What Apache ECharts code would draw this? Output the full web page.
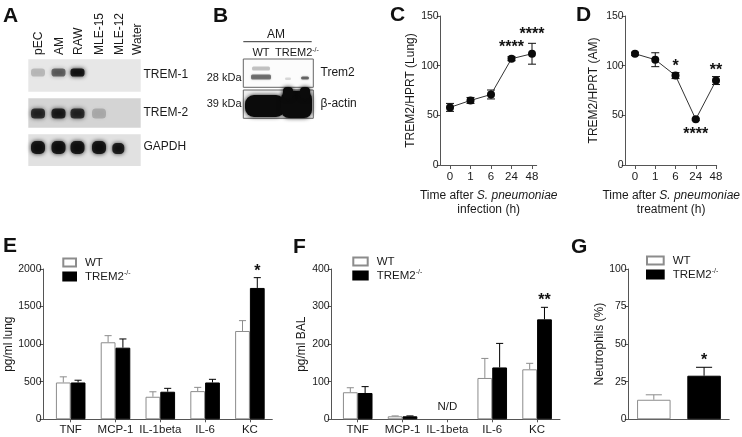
<!DOCTYPE html>
<html><head><meta charset="utf-8">
<script src="https://cdn.jsdelivr.net/npm/echarts@6/dist/echarts.min.js"></script>
<style>html,body{margin:0;padding:0;background:#fff}#c{width:742px;height:437px}</style>
</head><body><div id="c"></div>
<script>
const FONT = 'Liberation Sans, Arial, Helvetica, sans-serif';

// ---------- Panel A (RT-PCR gel) ----------
const laneLabels = ['pEC', 'AM', 'RAW', 'MLE-15', 'MLE-12', 'Water'];
const geneLabels = ['TREM-1', 'TREM-2', 'GAPDH'];
const trem1Intensity = [0.22, 0.6, 1, 0, 0, 0];
const trem2Intensity = [0.85, 0.92, 0.85, 0.22, 0, 0];
const gapdhIntensity = [1, 1, 1, 1, 0.95, 0];
// ---------- Panel B (western blot) ----------
const blotGroup = 'AM';
const blotLanes = ['WT', 'TREM2'];
const blotLabels = ['Trem2', 'β-actin'];
const blotMarkers = ['28 kDa', '39 kDa'];
// ---------- Panel C ----------
const timeCats = ['0', '1', '6', '24', '48'];
const lungMean = [58, 65, 71, 107, 112];
const lungErr = [4, 3, 4.5, 2, 10.5];
const lungStars = ['', '', '', '****', '****'];
// ---------- Panel D ----------
const amMean = [112, 106, 90, 46, 85];
const amErr = [1.5, 7, 3, 1, 4];
const amStars = ['', '', '*', '****', '**'];
const amStarSide = ['', '', 'up', 'down', 'up'];
// ---------- Panel E ----------
const cytoCats = ['TNF', 'MCP-1', 'IL-1beta', 'IL-6', 'KC'];
const lungWT = [490, 1025, 300, 375, 1175];
const lungWTErr = [75, 88, 66, 50, 138];
const lungKO = [490, 953, 367, 490, 1748];
const lungKOErr = [30, 116, 45, 42, 137];
const lungKOStars = ['', '', '', '', '*'];
// ---------- Panel F ----------
const balWT = [72, 8, null, 110, 133];
const balWTErr = [12, 1, null, 52, 16];
const balKO = [70, 8, null, 138, 266];
const balKOErr = [17, 1, null, 64, 32];
const balKOStars = ['', '', '', '', '**'];
const balNotDetected = ['', '', 'N/D', '', ''];
// ---------- Panel G ----------
const neutCats = ['WT', 'TREM2'];
const neutMean = [13, 29];
const neutErr = [3.3, 5.6];
const neutStars = ['', '*'];

const AX = '#555';
const TXT = '#1a1a1a';
const WT_BORDER = '#8c8c8c';

const chart = echarts.init(document.getElementById('c'), null, {renderer: 'canvas'});

// ---------- graphics for gels and panel letters ----------
const graphics = [];
function letter(t, x, y) {
  graphics.push({type: 'text', x, y, style: {text: t, font: 'bold 21px ' + FONT, fill: '#111', align: 'left', verticalAlign: 'top'}});
}
letter('A', 3, 6); letter('B', 213, 6); letter('C', 390, 5); letter('D', 576, 5);
letter('E', 3, 236); letter('F', 293, 237); letter('G', 571, 237);

const laneX = [38, 58.5, 77.5, 99, 118.3, 137];
laneLabels.forEach((l, i) => graphics.push({
  type: 'text', x: laneX[i] + 1, y: 55, rotation: Math.PI / 2,
  style: {text: l, font: '12px ' + FONT, fill: TXT, align: 'left', verticalAlign: 'middle'}
}));
const gelRows = [
  {top: 59.3, h: 32.4, band: 72.5, bh: 8, bg: '#e7e7e7', ints: trem1Intensity, labelY: 75},
  {top: 98.3, h: 29.4, band: 113.5, bh: 10, bg: '#d4d4d4', ints: trem2Intensity, labelY: 113},
  {top: 134.3, h: 31.7, band: 147.5, bh: 13, bg: '#e1e1e1', ints: gapdhIntensity, labelY: 147}
];
gelRows.forEach((r, k) => {
  graphics.push({type: 'rect', shape: {x: 28.3, y: r.top, width: 112.4, height: r.h}, style: {fill: r.bg}});
  r.ints.forEach((a, i) => {
    if (!a) return;
    const w = (k === 2 && i === 4) ? 12 : 14;
    const h = (k === 2 && i === 4) ? r.bh - 2 : r.bh;
    const cy = (k === 2 && i === 4) ? r.band + 1 : r.band;
    graphics.push({type: 'rect', shape: {x: laneX[i] - w / 2, y: cy - h / 2, width: w, height: h, r: h / 2.6},
      style: {fill: 'rgba(8,8,8,' + (a * 0.85) + ')', shadowBlur: 4, shadowColor: 'rgba(8,8,8,' + a + ')'}});
  });
  graphics.push({type: 'text', x: 143.5, y: r.labelY, style: {text: geneLabels[k], font: '12px ' + FONT, fill: TXT, align: 'left', verticalAlign: 'middle'}});
});

// Panel B
graphics.push({type: 'text', x: 276, y: 35, style: {text: blotGroup, font: '12px ' + FONT, fill: TXT, align: 'center', verticalAlign: 'middle'}});
graphics.push({type: 'line', shape: {x1: 243.3, y1: 41.7, x2: 311.7, y2: 41.7}, style: {stroke: '#333', lineWidth: 1}});
graphics.push({type: 'text', x: 261, y: 52.5, style: {text: blotLanes[0], font: '11px ' + FONT, fill: TXT, align: 'center', verticalAlign: 'middle'}});
graphics.push({type: 'text', x: 275, y: 52.5, style: {text: blotLanes[1] + '{s|-/-}', font: '11px ' + FONT, fill: TXT, align: 'left', verticalAlign: 'middle',
  rich: {s: {fontSize: 7, fontFamily: FONT, verticalAlign: 'top', fill: TXT}}}});
graphics.push({type: 'rect', shape: {x: 243.3, y: 59, width: 70, height: 28.3}, style: {fill: '#fcfcfc', stroke: '#666', lineWidth: 1}});
graphics.push({type: 'rect', shape: {x: 243.3, y: 90, width: 70, height: 28.3}, style: {fill: '#f0f0f0', stroke: '#666', lineWidth: 1}});
[
  [252, 66.5, 18, 4, 0.22], [251, 74.5, 20, 5, 0.5], [285, 77.5, 6, 2.5, 0.15], [301, 76.5, 8, 3, 0.55]
].forEach(b => graphics.push({type: 'rect', shape: {x: b[0], y: b[1], width: b[2], height: b[3], r: 1.5},
  style: {fill: 'rgba(20,20,20,' + b[4] + ')', shadowBlur: 2, shadowColor: 'rgba(20,20,20,' + b[4] + ')'}}));
[
  [245, 95, 40, 22, 9], [281, 91, 31, 27, 8], [283, 87, 10, 12, 4], [300, 87, 10, 12, 4]
].forEach(b => graphics.push({type: 'rect', shape: {x: b[0], y: b[1], width: b[2], height: b[3], r: b[4]},
  style: {fill: '#0b0b0b', shadowBlur: 4, shadowColor: 'rgba(10,10,10,0.9)'}}));
blotMarkers.forEach((m, i) => graphics.push({type: 'text', x: 241.5, y: i ? 103.5 : 77.5,
  style: {text: m, font: '11px ' + FONT, fill: TXT, align: 'right', verticalAlign: 'middle'}}));
blotLabels.forEach((m, i) => graphics.push({type: 'text', x: 320.5, y: i ? 104 : 73,
  style: {text: m, font: '12px ' + FONT, fill: TXT, align: 'left', verticalAlign: 'middle'}}));

// ---------- axis helpers ----------
const lineStyle = {color: AX, width: 1};
function frameX(g, name, gap) {
  const o = {gridIndex: g, type: 'value', min: 0, max: 1, axisLine: {show: true, onZero: false, lineStyle},
    axisTick: {show: false}, axisLabel: {show: false}, splitLine: {show: false}};
  if (name) {
    Object.assign(o, {name, nameLocation: 'middle', nameGap: gap,
      nameTextStyle: {color: TXT, fontFamily: FONT, fontSize: 12, lineHeight: 14,
        rich: {n: {fontSize: 12, fontFamily: FONT, color: TXT, lineHeight: 14}, i: {fontSize: 12, fontFamily: FONT, fontStyle: 'italic', color: TXT, lineHeight: 14}}}});
  }
  return o;
}
function frameY(g, min, max, interval, name, gap) {
  return {gridIndex: g, type: 'value', min, max, interval,
    axisLine: {show: true, onZero: false, lineStyle}, axisTick: {show: true, length: 4, lineStyle},
    axisLabel: {color: TXT, fontFamily: FONT, fontSize: 10.5, margin: 2, formatter: v => String(v)},
    splitLine: {show: false},
    name, nameLocation: 'middle', nameGap: gap,
    nameTextStyle: {color: TXT, fontFamily: FONT, fontSize: 12}};
}
function hiddenY(g, min, max) { return {gridIndex: g, type: 'value', min, max, show: false}; }
function catX(g, data, boundaryGap, tickLen, margin) {
  return {gridIndex: g, type: 'category', data, boundaryGap,
    axisLine: {show: false}, axisTick: {show: true, length: tickLen, alignWithLabel: true, lineStyle},
    axisLabel: {color: TXT, fontFamily: FONT, fontSize: 11.5, margin, interval: 0}, splitLine: {show: false}};
}

const grids = [
  {left: 440.7, top: 16, width: 96, height: 149},
  {left: 450, top: 16, width: 82, height: 149},
  {left: 625.7, top: 16, width: 94.3, height: 149},
  {left: 635, top: 16, width: 81, height: 149},
  {left: 43.5, top: 269, width: 228.8, height: 150.3},
  {left: 48.3, top: 269, width: 224, height: 150.3},
  {left: 331.7, top: 269, width: 228.3, height: 150.3},
  {left: 335.3, top: 269, width: 224.2, height: 150.3},
  {left: 628.7, top: 269, width: 100.5, height: 150.3}
];

const xAxes = [
  frameX(0, '{n|Time after }{i|S. pneumoniae}\n{n|infection (h)}', 24),
  catX(1, timeCats, false, 4, 6),
  frameX(2, '{n|Time after }{i|S. pneumoniae}\n{n|treatment (h)}', 24),
  catX(3, timeCats, false, 4, 6),
  frameX(4), catX(5, cytoCats, true, 3, 5),
  frameX(6), catX(7, cytoCats, true, 3, 5),
  {gridIndex: 8, type: 'category', data: neutCats, axisLine: {show: true, lineStyle}, axisTick: {show: false}, axisLabel: {show: false}}
];
const yAxes = [
  frameY(0, 0, 150, 50, 'TREM2/HPRT (Lung)', 24), hiddenY(1, 0, 150),
  frameY(2, 0, 150, 50, 'TREM2/HPRT (AM)', 26), hiddenY(3, 0, 150),
  frameY(4, 0, 2000, 500, 'pg/ml lung', 25), hiddenY(5, 0, 2000),
  frameY(6, 0, 400, 100, 'pg/ml BAL', 24), hiddenY(7, 0, 400),
  frameY(8, 0, 100, 25, 'Neutrophils (%)', 22)
];

// ---------- series helpers ----------
const STAR_FONT = 'bold 16px ' + FONT;
function lineErr(ax, means, errs, stars, sides, upGap) {
  return {type: 'custom', xAxisIndex: ax, yAxisIndex: ax, z: 2, silent: true,
    data: means.map((m, i) => [i, m, errs[i]]),
    renderItem: (params, api) => {
      const i = api.value(0), m = api.value(1), e = api.value(2);
      const x = api.coord([i, m])[0];
      const yT = api.coord([i, m + e])[1], yB = api.coord([i, m - e])[1];
      const st = {stroke: '#111', lineWidth: 1};
      const c = [
        {type: 'line', shape: {x1: x, y1: yT, x2: x, y2: yB}, style: st},
        {type: 'line', shape: {x1: x - 4, y1: yT, x2: x + 4, y2: yT}, style: st},
        {type: 'line', shape: {x1: x - 4, y1: yB, x2: x + 4, y2: yB}, style: st}];
      const s = stars[params.dataIndex];
      if (s) {
        const down = sides && sides[params.dataIndex] === 'down';
        c.push({type: 'text', style: {text: s, x, y: down ? yB + 6 : yT - upGap, font: STAR_FONT, fill: '#111',
          align: 'center', verticalAlign: down ? 'top' : 'bottom'}});
      }
      return {type: 'group', children: c};
    }};
}
function meanLine(ax, name, means) {
  return {type: 'line', name, xAxisIndex: ax, yAxisIndex: ax, data: means, z: 3,
    symbol: 'circle', symbolSize: 8, itemStyle: {color: '#0a0a0a'},
    lineStyle: {color: '#333', width: 1}, silent: true};
}
function bar(ax, name, data, fill, border, extra) {
  return Object.assign({type: 'bar', name, xAxisIndex: ax, yAxisIndex: ax, data, barGap: '0%', barCategoryGap: '34%',
    itemStyle: {color: fill, borderColor: border, borderWidth: 1}, silent: true, z: 2}, extra || {});
}
function barErr(ax, means, errs, stars, sign, frac, color, starGap) {
  return {type: 'custom', xAxisIndex: ax, yAxisIndex: ax, z: 1, silent: true,
    data: means.map((m, i) => m == null ? [i, 0, 0, 0] : [i, m, errs[i], 1]),
    renderItem: (params, api) => {
      if (!api.value(3)) return null;
      const i = api.value(0), m = api.value(1), e = api.value(2);
      const band = api.size([1, 0])[0];
      const bw = band * frac;
      const x = api.coord([i, 0])[0] + sign * bw / 2;
      const y0 = api.coord([i, m])[1], y1 = api.coord([i, m + e])[1];
      const cap = bw * 0.24;
      const st = {stroke: color, lineWidth: 1};
      const c = [
        {type: 'line', shape: {x1: x, y1: y0, x2: x, y2: y1}, style: st},
        {type: 'line', shape: {x1: x - cap, y1: y1, x2: x + cap, y2: y1}, style: st}];
      const s = stars[params.dataIndex];
      if (s) c.push({type: 'text', style: {text: s, x, y: y1 - starGap, font: STAR_FONT, fill: '#111', align: 'center', verticalAlign: 'bottom'}});
      return {type: 'group', children: c};
    }};
}

const series = [
  lineErr(1, lungMean, lungErr, lungStars, null, 1),
  meanLine(1, 'Lung', lungMean),
  lineErr(3, amMean, amErr, amStars, amStarSide, -2),
  meanLine(3, 'AM', amMean),
  bar(5, 'WT', lungWT, '#fff', WT_BORDER),
  bar(5, 'TREM2', lungKO, '#000', '#000'),
  barErr(5, lungWT, lungWTErr, lungWT.map(() => ''), -1, 0.33, WT_BORDER, 0),
  barErr(5, lungKO, lungKOErr, lungKOStars, 1, 0.33, '#000', -1.5),
  bar(7, 'WT', balWT, '#fff', WT_BORDER),
  bar(7, 'TREM2', balKO, '#000', '#000'),
  barErr(7, balWT, balWTErr, balWT.map(() => ''), -1, 0.33, WT_BORDER, 0),
  barErr(7, balKO, balKOErr, balKOStars, 1, 0.33, '#000', -1.5),
  {type: 'custom', xAxisIndex: 7, yAxisIndex: 7, silent: true,
    data: balNotDetected.map((t, i) => [i, 0, t ? 1 : 0]),
    renderItem: (params, api) => {
      if (!api.value(2)) return null;
      const p = api.coord([api.value(0), 0]);
      return {type: 'text', style: {text: balNotDetected[params.dataIndex], x: p[0], y: p[1] - 12, font: '11.5px ' + FONT, fill: TXT, align: 'center', verticalAlign: 'middle'}};
    }},
  bar(8, 'WT', neutMean.map((v, i) => i === 0 ? v : '-'), '#fff', WT_BORDER, {barGap: '-100%', barWidth: '66.7%'}),
  bar(8, 'TREM2', neutMean.map((v, i) => i === 1 ? v : '-'), '#000', '#000', {barGap: '-100%', barWidth: '66.7%'}),
  barErr(8, neutMean.map((v, i) => i === 0 ? v : null), neutErr, ['', ''], 0, 0.667, WT_BORDER, 0),
  barErr(8, neutMean.map((v, i) => i === 1 ? v : null), neutErr, neutStars, 0, 0.667, '#000', -1.5)
];

function legend(left, top, w) {
  return {left, top, orient: 'vertical', itemWidth: w, itemHeight: 8, itemGap: 1, icon: 'rect',
    data: ['WT', 'TREM2'], selectedMode: false,
    formatter: n => n === 'TREM2' ? 'TREM2{s|-/-}' : n,
    textStyle: {color: TXT, fontFamily: FONT, fontSize: 11.5, padding: [0, 0, 0, 4], lineHeight: 13,
      rich: {s: {fontSize: 7, fontFamily: FONT, color: TXT, verticalAlign: 'top', lineHeight: 8}}}};
}

chart.setOption({
  animation: false,
  textStyle: {fontFamily: FONT},
  grid: grids,
  xAxis: xAxes,
  yAxis: yAxes,
  legend: [legend(57.3, 251, 12.7), legend(347.3, 250, 14.4), legend(641, 249, 16.7)],
  series,
  graphic: {elements: graphics}
});
</script></body></html>
